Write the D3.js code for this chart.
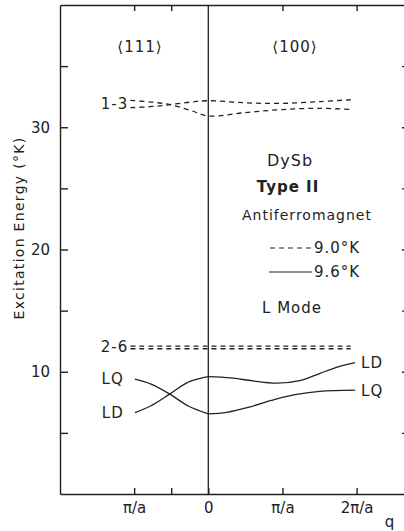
<!DOCTYPE html>
<html>
<head>
<meta charset="utf-8">
<script src="https://cdn.jsdelivr.net/npm/d3@7"></script>
<style>
  body { margin: 0; background: #fff; }
  svg { display: block; }
  text { font-family: "DejaVu Sans", sans-serif; fill: #222; }
  .axis path, .axis line { stroke: #222; stroke-width: 1.4; }
</style>
</head>
<body>
<svg width="404" height="531"></svg>
<script>
// q is in units of pi/a ; negative q = <111> branch, positive q = <100> branch

// 1-3 modes (dashed, 9.0 K)
var q13a = [-1.05, -0.75, -0.52, -0.25, 0, 0.5, 1.0, 1.5, 1.92];
var e13a = [32.2, 32.05, 31.85, 31.4, 30.92, 31.2, 31.45, 31.55, 31.45];
var q13b = [-1.05, -0.75, -0.52, -0.25, 0, 0.5, 1.0, 1.5, 1.92];
var e13b = [31.6, 31.7, 31.85, 32.05, 32.17, 32.0, 31.95, 32.1, 32.25];

// 2-6 modes (dashed, 9.0 K)
var q26 = [-1.05, 0, 1.0, 1.92];
var e26a = [12.1, 12.1, 12.1, 12.1];
var e26b = [11.88, 11.88, 11.88, 11.88];

// LQ / LD modes (solid, 9.6 K)
var qLeft = [-0.99, -0.78, -0.52, -0.27, 0];
var eLQ111 = [9.39, 9.0, 8.17, 7.2, 6.55];
var eLD111 = [6.66, 7.2, 8.17, 9.15, 9.6];
var qUp = [0, 0.3, 0.6, 0.92, 1.25, 1.5, 1.75, 1.98];
var eLD100 = [9.6, 9.5, 9.25, 9.07, 9.3, 9.85, 10.4, 10.75];
var qLow = [0, 0.25, 0.55, 0.85, 1.15, 1.5, 1.98];
var eLQ100 = [6.55, 6.68, 7.1, 7.65, 8.1, 8.4, 8.5];

// axis ticks
var yTicks = [5, 10, 15, 20, 25, 30, 35];
var yLabels = [10, 20, 30];
var xTicks = [-1, -0.5, 0, 1, 2];
var xTickLabels = ["\u03c0/a", "", "0", "\u03c0/a", "2\u03c0/a"];

var svg = d3.select("svg");

var x = d3.scaleLinear().domain([-2, 2.72]).range([60, 410]);
var y = d3.scaleLinear().domain([0, 40]).range([494, 5]);

// axes (ticks point inward)
svg.append("g").attr("class", "axis")
  .attr("transform", "translate(60,0)")
  .call(d3.axisLeft(y).tickValues(yTicks).tickSize(-8).tickSizeOuter(0).tickPadding(10)
    .tickFormat(function (d) { return yLabels.indexOf(d) >= 0 ? d : ""; }))
  .selectAll("text").style("font-size", "15px").style("font-family", "DejaVu Sans");

svg.append("g").attr("class", "axis")
  .attr("transform", "translate(410,0)")
  .call(d3.axisRight(y).tickValues(yTicks).tickSize(-8).tickSizeOuter(0).tickFormat(""));

svg.append("g").attr("class", "axis")
  .attr("transform", "translate(0,494)")
  .call(d3.axisBottom(x).tickValues(xTicks).tickSize(-6).tickSizeOuter(0).tickPadding(8)
    .tickFormat(function (d, i) { return xTickLabels[i]; }))
  .selectAll("text").style("font-size", "15px").style("font-family", "DejaVu Sans");

svg.append("g").attr("class", "axis")
  .attr("transform", "translate(0,5)")
  .call(d3.axisTop(x).tickValues([-1, -0.5, 1, 2]).tickSize(-6).tickSizeOuter(0).tickFormat(""));

svg.selectAll(".axis .domain").attr("stroke-width", 1.6);

// q = 0 divider
svg.append("line")
  .attr("x1", x(0)).attr("x2", x(0))
  .attr("y1", y(40)).attr("y2", y(0))
  .attr("stroke", "#222").attr("stroke-width", 1.3);

// curves
var line = d3.line()
  .x(function (d) { return x(d[0]); })
  .y(function (d) { return y(d[1]); })
  .curve(d3.curveCatmullRom.alpha(0.5));

function draw(qs, es, dashed) {
  svg.append("path")
    .datum(d3.zip(qs, es))
    .attr("d", line)
    .attr("fill", "none")
    .attr("stroke", "#222")
    .attr("stroke-width", 1.3)
    .attr("stroke-dasharray", dashed ? "5,4" : null);
}

draw(q13a, e13a, true);
draw(q13b, e13b, true);
draw(q26, e26a, true);
draw(q26, e26b, true);
draw(qLeft, eLQ111, false);
draw(qLeft, eLD111, false);
draw(qUp, eLD100, false);
draw(qLow, eLQ100, false);

// labels
function label(tx, ty, str, size, anchor, weight) {
  return svg.append("text")
    .attr("x", tx).attr("y", ty)
    .attr("dominant-baseline", "central")
    .attr("text-anchor", anchor || "middle")
    .style("font-size", size + "px")
    .style("font-weight", weight || "normal")
    .style("letter-spacing", "1px")
    .text(str);
}

label(140, 47, "\u27e8111\u27e9", 15);
label(295, 47, "\u27e8100\u27e9", 15);

label(x(-1.08), y(31.9), "1-3", 15, "end");
label(x(-1.08), y(12), "2-6", 15, "end");
label(x(-1.14), y(9.4), "LQ", 15, "end");
label(x(-1.14), y(6.6), "LD", 15, "end");
label(x(2.06), y(10.75), "LD", 15, "start");
label(x(2.06), y(8.4), "LQ", 15, "start");

label(290, 160, "DySb", 16);
label(288, 187, "Type II", 15, "middle", "bold");
label(307, 215, "Antiferromagnet", 14);

svg.append("line").attr("x1", 270).attr("x2", 313).attr("y1", 248).attr("y2", 248)
  .attr("stroke", "#222").attr("stroke-width", 1.2).attr("stroke-dasharray", "5,4");
label(314, 248, "9.0\u00b0K", 15, "start");
svg.append("line").attr("x1", 269).attr("x2", 312).attr("y1", 272).attr("y2", 272)
  .attr("stroke", "#222").attr("stroke-width", 1.2);
label(314, 272, "9.6\u00b0K", 15, "start");

label(292, 308, "L Mode", 15);

label(390, 522, "q", 15);

svg.append("text")
  .attr("transform", "translate(19,228) rotate(-90)")
  .attr("text-anchor", "middle")
  .attr("dominant-baseline", "central")
  .style("font-size", "14px")
  .style("letter-spacing", "1.3px")
  .text("Excitation Energy (\u00b0K)");
</script>
</body>
</html>
